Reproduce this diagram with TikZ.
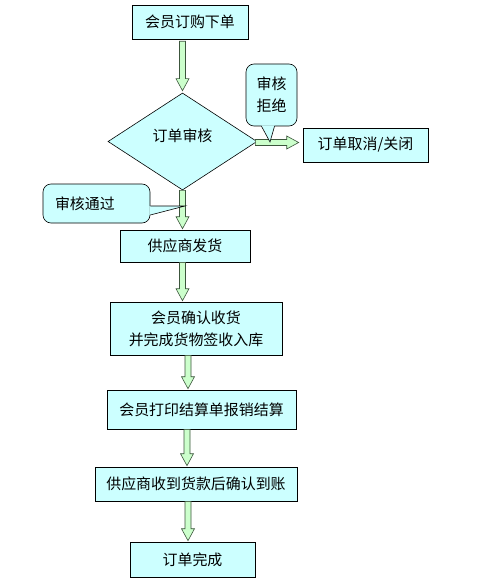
\documentclass[tikz,border=0pt]{standalone}
\usepackage{fontspec}
\usepackage{tikz}
\usepackage{xcolor}
\usetikzlibrary{calc, shapes.geometric}
\newfontfamily\cjk{Noto Sans CJK SC}
\definecolor{boxfill}{HTML}{CCFFFF}
\definecolor{arrowfill}{HTML}{CCFFCC}
\definecolor{arrowline}{HTML}{3C553C}

\tikzset{
  box/.style={draw=black, fill=boxfill, line width=0.6pt, inner sep=0pt, align=center},
  talk/.style={box, rounded corners=8bp},
  fat/.style={fill=arrowfill, draw=arrowline, line width=0.6pt, line join=miter},
}
% hollow block arrow from #1 to #2
\newcommand{\fatarrow}[2]{%
  \coordinate (fa) at (#1);
  \coordinate (fb) at (#2);
  \coordinate (fh) at ($(fb)!12bp!(fa)$);
  \filldraw[fat] ($(fa)!3bp!90:(fb)$) -- ($(fh)!3bp!-90:(fa)$) -- ($(fh)!6.5bp!-90:(fa)$) -- (fb)
    -- ($(fh)!6.5bp!90:(fa)$) -- ($(fh)!3bp!90:(fa)$) -- ($(fa)!3bp!-90:(fb)$) -- cycle;
}

\begin{document}
\begin{tikzpicture}[x=1bp,y=-1bp,font=\cjk\fontsize{15}{22}\selectfont]
\useasboundingbox[fill=white] (0,0) rectangle (481,584);

\node[box, minimum width=116bp, minimum height=34bp] (top) at (190,22) {会员订购下单};
\node[box, diamond, minimum width=149bp, minimum height=97bp] (chk) at (182.5,141.5) {\raisebox{12bp}{订单审核}};
\node[box, minimum width=125bp, minimum height=34bp] (cancel) at (365.5,145) {订单取消/关闭};
\node[box, minimum width=130bp, minimum height=32bp] (ship) at (185,246) {供应商发货};
\node[box, minimum width=172bp, minimum height=53bp] (recv) at (196,328.5) {会员确认收货\\并完成货物签收入库};
\node[box, minimum width=189bp, minimum height=39bp] (print) at (201.5,409.5) {会员打印结算单报销结算};
\node[box, minimum width=202bp, minimum height=34bp] (pay) at (196,484) {供应商收到货款后确认到账};
\node[box, minimum width=125bp, minimum height=35bp] (done) at (192.5,559.5) {订单完成};

\fatarrow{$(top.south -| chk.north)+(0,2)$}{$(chk.north)+(0,-2)$}
\fatarrow{chk.south}{$(ship.north -| chk.south)+(0,-1)$}
\fatarrow{$(chk.east)+(-2,1)$}{$(chk.east -| cancel.west)+(-4,1)$}
\fatarrow{ship.south -| chk.south}{$(recv.north -| chk.south)+(0,-1)$}
\fatarrow{$(recv.south)+(-8,0)$}{$(print.north -| recv.south)+(-8,-1)$}
\fatarrow{$(print.south)+(-14.5,0)$}{$(pay.north -| print.south)+(-14.5,-1)$}
\fatarrow{$(pay.south)+(-8,0)$}{$(done.north -| pay.south)+(-8,-1)$}

% callouts
\node[talk, minimum width=51bp, minimum height=62bp] (reject) at (271.5,95) {审核\\拒绝};
\coordinate (rtip) at (270,142);
\fill[boxfill] ($(reject.south)+(-10,-1)$) -- (rtip) -- ($(reject.south)+(3,-1)$) -- cycle;
\draw[line width=0.6pt] ($(reject.south)+(-10,0)$) -- (rtip) -- ($(reject.south)+(3,0)$);

\node[talk, minimum width=107bp, minimum height=39bp, text width=83bp, align=left] (pass) at (96.5,203.5) {审核通过};
\coordinate (ptip) at (185,206);
\fill[boxfill] ($(pass.east)+(-1,2.5)$) -- (ptip) -- ($(pass.east)+(-1,11.5)$) -- cycle;
\draw[line width=0.6pt] ($(pass.east)+(0,2.5)$) -- (ptip) -- ($(pass.east)+(0,11.5)$);
\end{tikzpicture}
\end{document}
